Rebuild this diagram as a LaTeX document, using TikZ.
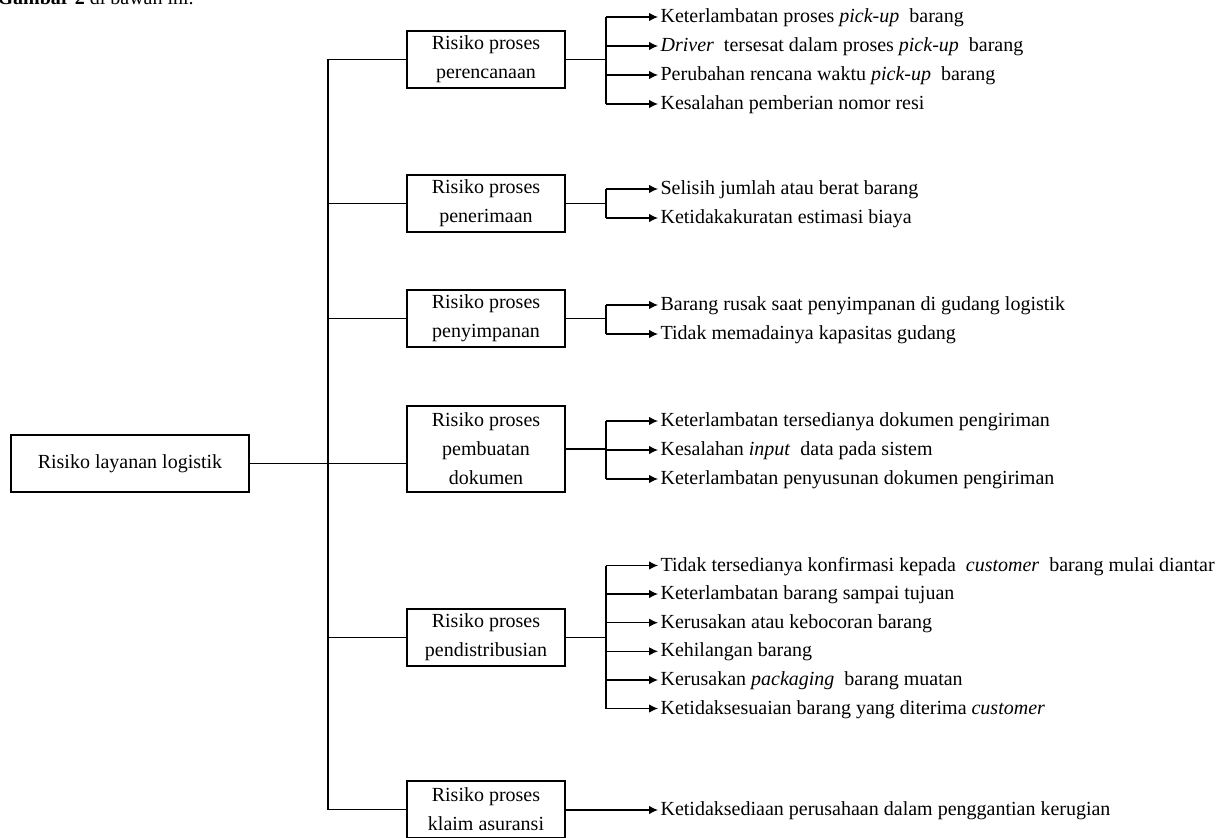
\documentclass[tikz,border=0pt]{standalone}
\usepackage{fontspec}
\setmainfont{Liberation Serif}
\usetikzlibrary{arrows.meta,positioning}

\tikzset{
	box/.style={draw, align=center, minimum width=158pt, minimum height=57pt, inner sep=0pt,
		font=\fontsize{20}{28.9}\selectfont},
	rootbox/.style={box, minimum width=238pt},
	leaf/.style={anchor=west, inner xsep=2pt, inner ysep=0pt, text height=14pt, text depth=3pt,
		font=\fontsize{20}{28.9}\selectfont},
	tip/.style={-{Latex[length=9pt,width=8.5pt]}}
}

\begin{document}
\begin{tikzpicture}[x=1pt,y=-1pt,line width=1.2pt]
	\clip (0,0) rectangle (1222,837);
	\node[anchor=base west, inner sep=0pt, font=\fontsize{20}{24}\selectfont] (cap) at (-3,5) {\textbf{Gambar 2} di bawah ini.};

	% kotak utama dan kotak proses
	\node[rootbox] (root) at (130,463.5) {Risiko layanan logistik};
	\node[box] (plan) at (486,59.5) {Risiko proses\\perencanaan};
	\node[box] (recv) at (486,203.5) {Risiko proses\\penerimaan};
	\node[box] (store) at (486,318.5) {Risiko proses\\penyimpanan};
	\node[box, minimum height=86pt] (doc) at (486,449) {Risiko proses\\pembuatan\\dokumen};
	\node[box] (dist) at (486,637.5) {Risiko proses\\pendistribusian};
	\node[box] (claim) at (486,809.5) {Risiko proses\\klaim asuransi};

	\coordinate (trunk) at (328,0);
	\coordinate (split) at (606,0);

	% risiko
	\node[leaf] (plan1) at (658,17) {Keterlambatan proses \textit{pick-up}\hspace{.25em} barang};
	\node[leaf] (plan2) at (658,46) {\textit{Driver}\hspace{.25em} tersesat dalam proses \textit{pick-up}\hspace{.25em} barang};
	\node[leaf] (plan3) at (658,75) {Perubahan rencana waktu \textit{pick-up}\hspace{.25em} barang};
	\node[leaf] (plan4) at (658,104) {Kesalahan pemberian nomor resi};

	\node[leaf] (recv1) at (658,189) {Selisih jumlah atau berat barang};
	\node[leaf] (recv2) at (658,218) {Ketidakakuratan estimasi biaya};

	\node[leaf] (store1) at (658,305) {Barang rusak saat penyimpanan di gudang logistik};
	\node[leaf] (store2) at (658,334) {Tidak memadainya kapasitas gudang};

	\node[leaf] (doc1) at (658,421) {Keterlambatan tersedianya dokumen pengiriman};
	\node[leaf] (doc2) at (658,450) {Kesalahan \textit{input}\hspace{.25em} data pada sistem};
	\node[leaf] (doc3) at (658,479) {Keterlambatan penyusunan dokumen pengiriman};

	\node[leaf] (dist1) at (658,565.5) {Tidak tersedianya konfirmasi kepada\hspace{.25em} \textit{customer}\hspace{.25em} barang mulai diantar};
	\node[leaf] (dist2) at (658,594) {Keterlambatan barang sampai tujuan};
	\node[leaf] (dist3) at (658,622.7) {Kerusakan atau kebocoran barang};
	\node[leaf] (dist4) at (658,651.3) {Kehilangan barang};
	\node[leaf] (dist5) at (658,680) {Kerusakan \textit{packaging}\hspace{.25em} barang muatan};
	\node[leaf] (dist6) at (658,708.5) {Ketidaksesuaian barang yang diterima \textit{customer}};

	\node[leaf] (claim1) at (658,810) {Ketidaksediaan perusahaan dalam penggantian kerugian};

	% garis batang
	\draw (plan.west) -- (plan.west -| trunk) -- (claim.west -| trunk) -- (claim.west);
	\foreach \c in {recv,store,dist}
		\draw (\c.west -| trunk) -- (\c.west);
	\draw (root.east) -- (root.east -| doc.west);

	% cabang ke risiko
	\foreach \c/\first/\last in {plan/plan1/plan4,recv/recv1/recv2,store/store1/store2,doc/doc1/doc3,dist/dist1/dist6}{
		\draw (\c.east) -- (\c.east -| split);
		\draw (\first.west -| split) -- (\last.west -| split);
	}
	\foreach \l in {plan1,plan2,plan3,plan4,recv1,recv2,store1,store2,doc1,doc2,doc3,dist1,dist2,dist3,dist4,dist5,dist6}
		\draw[tip] (\l.west -| split) -- (\l.west);
	\draw[tip] (claim.east |- claim1.west) -- (claim1.west);
\end{tikzpicture}
\end{document}
